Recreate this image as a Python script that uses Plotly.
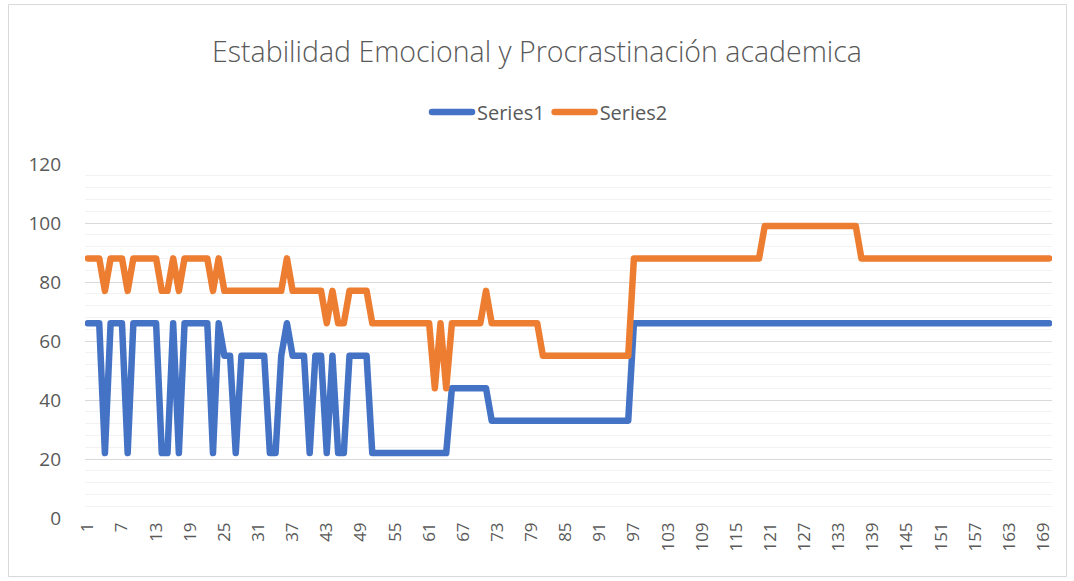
import plotly.graph_objects as go

# ---- data ----
x_index = list(range(1, 171))
series1 = ([66]*3 + [22] + [66]*3 + [22] + [66]*5 + [22]*2 + [66] + [22] + [66]*5 + [22] + [66]
           + [55]*2 + [22] + [55]*5 + [22]*2 + [55] + [66] + [55]*3 + [22] + [55]*2 + [22] + [55]
           + [22]*2 + [55]*4 + [22]*14 + [44]*7 + [33]*25 + [66]*74)
series2 = ([88]*3 + [77] + [88]*3 + [77] + [88]*5 + [77]*2 + [88] + [77] + [88]*5 + [77] + [88]
           + [77]*11 + [88] + [77]*6 + [66] + [77] + [66]*2 + [77]*4 + [66]*11 + [44] + [66] + [44]
           + [66]*6 + [77] + [66]*9 + [55]*16 + [88]*23 + [99]*17 + [88]*34)
tick_vals = list(range(1, 171, 6))
tick_text = [str(v) for v in tick_vals]
title_text = "Estabilidad Emocional y Procrastinación academica"
names = ["Series1", "Series2"]
colors = ["#4472C4", "#ED7D31"]

W, H = 1074, 581
L, R, T, B = 85, 22, 164, 63
pw, ph = W - L - R, H - T - B

fig = go.Figure()
for name, ys, c in zip(names, [series1, series2], colors):
    fig.add_trace(go.Scatter(x=x_index, y=ys, mode="lines", name=name,
                             line=dict(color=c, width=6.5)))

def px2paper_x(px):
    return (px - L) / pw

def py2paper_y(py):
    return (H - B - py) / ph

fig.add_shape(type="rect", xref="paper", yref="paper",
              x0=px2paper_x(8.5), x1=px2paper_x(1066.5),
              y0=py2paper_y(576.5), y1=py2paper_y(4.5),
              line=dict(color="#D9D9D9", width=1), fillcolor="rgba(0,0,0,0)", layer="below")

fig.update_layout(
    width=W, height=H,
    margin=dict(l=L, r=R, t=T, b=B),
    paper_bgcolor="white", plot_bgcolor="white",
    font=dict(family="Open Sans", color="#595959"),
    title=dict(text=title_text, x=0.5, xref="container", xanchor="center",
               y=1 - 52 / H, yref="container", yanchor="middle",
               font=dict(family="Open Sans", size=28.5, color="#595959", weight=300)),
    legend=dict(orientation="h", x=px2paper_x(550), xanchor="center",
                y=py2paper_y(112), yanchor="middle",
                font=dict(size=20, color="#595959"), itemwidth=40),
    showlegend=True,
)
fig.update_xaxes(range=[0.5, 170.5], tickmode="array", tickvals=tick_vals, ticktext=tick_text,
                 tickangle=-90, showgrid=False, zeroline=False, showline=False,
                 ticks="", tickfont=dict(size=17, color="#595959"))
fig.update_yaxes(range=[0, 120], dtick=20, tick0=0, showgrid=True, gridcolor="#D9D9D9",
                 gridwidth=1, zeroline=False, showline=False, ticks="",
                 tickfont=dict(size=19, color="#595959"), ticklabelstandoff=23,
                 minor=dict(dtick=4, showgrid=True, gridcolor="#F2F2F2", gridwidth=1))

post = """
document.body.style.margin='0';
var s=document.createElement('style');
s.innerHTML='body{margin:0 !important} .js-line{stroke-linejoin:round !important;stroke-linecap:round !important}';
document.head.appendChild(s);
"""
fig.write_html("out.html", post_script=post, config={"displayModeBar": False})
